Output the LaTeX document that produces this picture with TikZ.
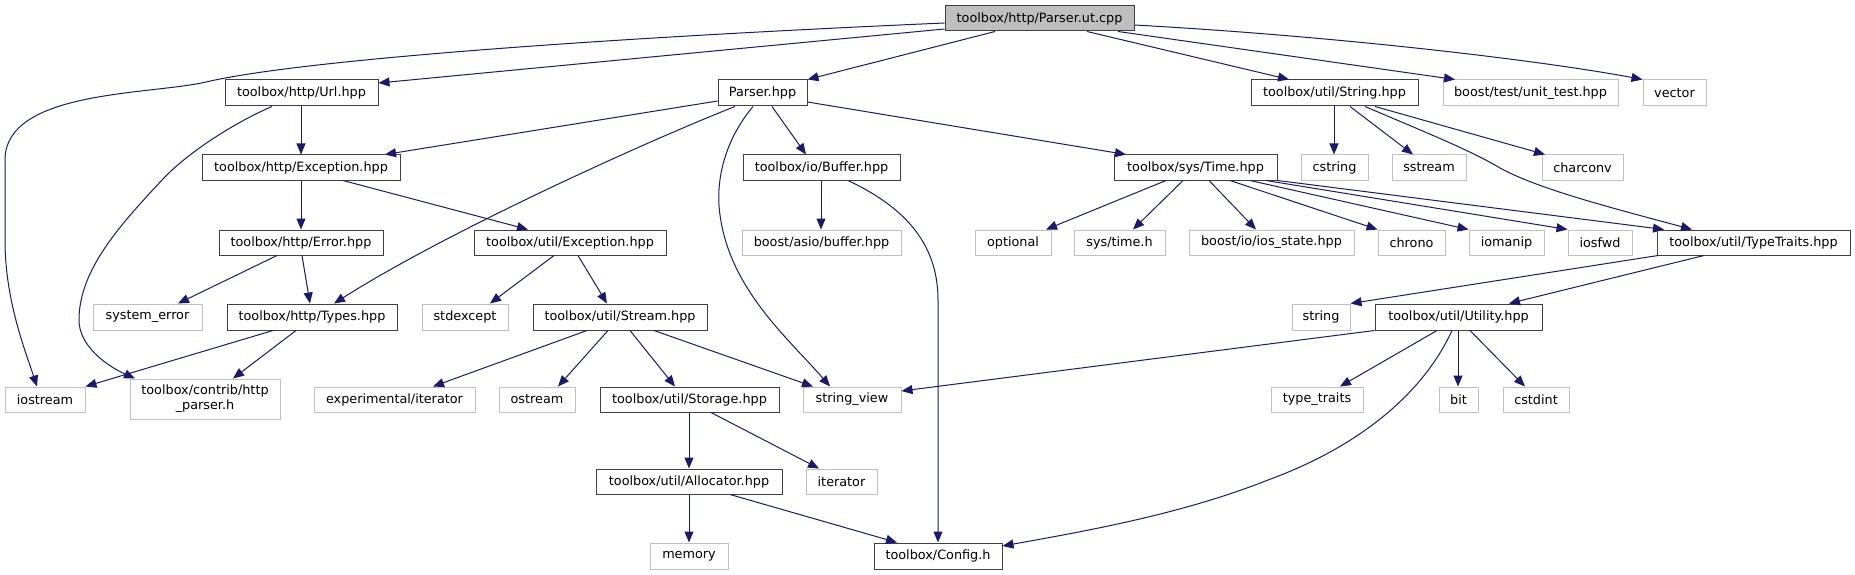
\documentclass[tikz,border=0pt]{standalone}
\usepackage{fontspec}
\setmainfont{DejaVu Sans}
\usetikzlibrary{arrows.meta}
\definecolor{edgeblue}{HTML}{191970}
\definecolor{greyfill}{HTML}{BFBFBF}
\definecolor{greyline}{HTML}{BFBFBF}
\definecolor{boxline}{HTML}{404040}
\newcommand\mkbox[7]{%
  \node[#1, minimum width={(#4-#3)*1pt}, minimum height={(#6-#5)*1pt}] (#2) at ({(#3+#4)/2},{(#5+#6)/2}) {#7};}
\tikzset{
  base/.style={rectangle, inner sep=0pt, font=\fontsize{12.8}{15}\selectfont, line width=1pt, align=center},
  filebox/.style={base, draw=boxline, fill=white},
  rootbox/.style={base, draw=boxline, fill=greyfill},
  extbox/.style={base, draw=greyline, fill=white},
  edge/.style={draw=edgeblue, line width=1pt, -{Triangle[length=11pt,width=9pt]}, fill=none},
}
\begin{document}
\begin{tikzpicture}[x=1pt,y=-1pt]
\useasboundingbox (0,0) rectangle (1855,575);
% row 1
\mkbox{rootbox}{root}{945}{1134}{6}{31}{toolbox/http/Parser.ut.cpp}
% row 2
\mkbox{filebox}{url}{225}{378}{80}{106}{toolbox/http/Url.hpp}
\mkbox{filebox}{parser}{718}{807}{80}{106}{Parser.hpp}
\mkbox{filebox}{string}{1251}{1418}{80}{106}{toolbox/util/String.hpp}
\mkbox{extbox}{unittest}{1443}{1618}{80}{106}{boost/test/unit\_test.hpp}
\mkbox{extbox}{vector}{1643}{1706}{80}{106}{vector}
% row 3
\mkbox{filebox}{httpexc}{202}{400}{155}{180}{toolbox/http/Exception.hpp}
\mkbox{filebox}{buffer}{743}{900}{155}{180}{toolbox/io/Buffer.hpp}
\mkbox{filebox}{time}{1114}{1277}{155}{180}{toolbox/sys/Time.hpp}
\mkbox{extbox}{cstring}{1301}{1368}{155}{180}{cstring}
\mkbox{extbox}{sstream}{1392}{1466}{155}{180}{sstream}
\mkbox{extbox}{charconv}{1542}{1623}{155}{180}{charconv}
% row 4
\mkbox{filebox}{error}{219}{383}{230}{255}{toolbox/http/Error.hpp}
\mkbox{filebox}{utilexc}{474}{666}{230}{255}{toolbox/util/Exception.hpp}
\mkbox{extbox}{asiobuf}{742}{901}{230}{255}{boost/asio/buffer.hpp}
\mkbox{extbox}{optional}{975}{1051}{230}{255}{optional}
\mkbox{extbox}{systime}{1074}{1165}{230}{255}{sys/time.h}
\mkbox{extbox}{iosstate}{1189}{1354}{230}{255}{boost/io/ios\_state.hpp}
\mkbox{extbox}{chrono}{1378}{1445}{230}{255}{chrono}
\mkbox{extbox}{iomanip}{1469}{1544}{230}{255}{iomanip}
\mkbox{extbox}{iosfwd}{1568}{1632}{230}{255}{iosfwd}
\mkbox{filebox}{typetraits}{1657}{1850}{230}{255}{toolbox/util/TypeTraits.hpp}
% row 5
\mkbox{extbox}{syserr}{93}{202}{304}{330}{system\_error}
\mkbox{filebox}{types}{227}{397}{304}{330}{toolbox/http/Types.hpp}
\mkbox{extbox}{stdexcept}{422}{508}{304}{330}{stdexcept}
\mkbox{filebox}{stream}{533}{707}{304}{330}{toolbox/util/Stream.hpp}
\mkbox{extbox}{strng}{1292}{1350}{304}{330}{string}
\mkbox{filebox}{utility}{1375}{1542}{304}{330}{toolbox/util/Utility.hpp}
% row 6
\mkbox{extbox}{iostream}{5}{85}{387}{412}{iostream}
\mkbox{extbox}{httpparser}{130}{280}{379}{419}{toolbox/contrib/http\\\_parser.h}
\mkbox{extbox}{expiter}{314}{475}{387}{412}{experimental/iterator}
\mkbox{extbox}{ostream}{499}{575}{387}{412}{ostream}
\mkbox{filebox}{storage}{600}{779}{387}{412}{toolbox/util/Storage.hpp}
\mkbox{extbox}{stringview}{803}{901}{387}{412}{string\_view}
\mkbox{extbox}{typetraitsstd}{1271}{1363}{387}{412}{type\_traits}
\mkbox{extbox}{bit}{1439}{1478}{387}{412}{bit}
\mkbox{extbox}{cstdint}{1503}{1569}{387}{412}{cstdint}
% row 7
\mkbox{filebox}{allocator}{596}{782}{469}{494}{toolbox/util/Allocator.hpp}
\mkbox{extbox}{iterator}{806}{877}{469}{494}{iterator}
% row 8
\mkbox{extbox}{memory}{650}{728}{543}{569}{memory}
\mkbox{filebox}{config}{874}{1002}{543}{569}{toolbox/Config.h}

% edges from root
\draw[edge] (root.west |- 0,23) .. controls (600,38) and (300,60) .. (206,82)
  .. controls (150,95) and (5,90) .. (5,160) -- (5,240)
  .. controls (5,300) and (25,350) .. (37,0 |- iostream.north);
\draw[edge] (root.west |- 0,29) -- (url.east |- 0,83);
\draw[edge] (995,0 |- root.south) -- (parser.north east);
\draw[edge] (1087,0 |- root.south) -- (1289,0 |- string.north);
\draw[edge] (1118,0 |- root.south) -- (1455,0 |- unittest.north);
\draw[edge] (root.east |- 0,25) .. controls (1350,37) and (1550,62) .. (vector.north west);
% url
\draw[edge] (301,0 |- url.south) -- (301,0 |- httpexc.north);
\draw[edge] (272,0 |- url.south) .. controls (240,120) and (190,150) .. (162,180)
  .. controls (120,225) and (79,270) .. (79,320)
  .. controls (79,345) and (105,365) .. (135,0 |- httpparser.north);
% parser
\draw[edge] (parser.west |- 0,101) -- (385,0 |- httpexc.north);
\draw[edge] (735,0 |- parser.south) .. controls (650,140) and (450,230) .. (334,0 |- types.north);
\draw[edge] (753,0 |- parser.south) .. controls (725,140) and (715,180) .. (720,215)
  .. controls (730,290) and (790,340) .. (830,0 |- stringview.north);
\draw[edge] (772,0 |- parser.south) -- (806,0 |- buffer.north);
\draw[edge] (parser.east |- 0,102) -- (1126,0 |- time.north);
% http exception
\draw[edge] (301,0 |- httpexc.south) -- (301,0 |- error.north);
\draw[edge] (343,0 |- httpexc.south) -- (528,0 |- utilexc.north);
% error
\draw[edge] (277,0 |- error.south) -- (178,0 |- syserr.north);
\draw[edge] (302,0 |- error.south) -- (310,0 |- types.north);
% util exception
\draw[edge] (554,0 |- utilexc.south) -- (490,0 |- stdexcept.north);
\draw[edge] (578,0 |- utilexc.south) -- (607,0 |- stream.north);
% buffer
\draw[edge] (821,0 |- buffer.south) -- (821,0 |- asiobuf.north);
\draw[edge] (848,0 |- buffer.south) .. controls (900,205) and (938,240) .. (938,300) -- (938,0 |- config.north);
% types
\draw[edge] (273,0 |- types.south) -- (iostream.north east);
\draw[edge] (296,0 |- types.south) -- (233,0 |- httpparser.north);
% stream
\draw[edge] (587,0 |- stream.south) -- (433,0 |- expiter.north);
\draw[edge] (608,0 |- stream.south) -- (558,0 |- ostream.north);
\draw[edge] (630,0 |- stream.south) -- (675,0 |- storage.north);
\draw[edge] (654,0 |- stream.south) -- (813,0 |- stringview.north);
% storage
\draw[edge] (689,0 |- storage.south) -- (689,0 |- allocator.north);
\draw[edge] (711,0 |- storage.south) -- (819,0 |- iterator.north);
% allocator
\draw[edge] (689,0 |- allocator.south) -- (689,0 |- memory.north);
\draw[edge] (730,0 |- allocator.south) -- (897,0 |- config.north);
% time
\draw[edge] (1166,0 |- time.south) -- (1046,0 |- optional.north);
\draw[edge] (1183,0 |- time.south) -- (1133,0 |- systime.north);
\draw[edge] (1209,0 |- time.south) -- (1256,0 |- iosstate.north);
\draw[edge] (1230,0 |- time.south) -- (chrono.north west);
\draw[edge] (1250,0 |- time.south) -- (iomanip.north west);
\draw[edge] (1266,0 |- time.south) -- (iosfwd.north west);
\draw[edge] (time.south east) -- (1664,0 |- typetraits.north);
% string
\draw[edge] (1334,0 |- string.south) -- (1334,0 |- cstring.north);
\draw[edge] (1350,0 |- string.south) -- (1413,0 |- sstream.north);
\draw[edge] (1375,0 |- string.south) -- (1545,0 |- charconv.north);
\draw[edge] (1365,0 |- string.south) .. controls (1420,130) and (1470,150) .. (1500,168)
  .. controls (1540,190) and (1620,210) .. (1692,0 |- typetraits.north);
% typetraits
\draw[edge] (1658,0 |- typetraits.south) -- (strng.north east);
\draw[edge] (1704,0 |- typetraits.south) -- (1509,0 |- utility.north);
% utility
\draw[edge] (utility.south west) -- (stringview.east |- 0,391);
\draw[edge] (1437,0 |- utility.south) -- (1340,0 |- typetraitsstd.north);
\draw[edge] (1458,0 |- utility.south) -- (1458,0 |- bit.north);
\draw[edge] (1470,0 |- utility.south) -- (1525,0 |- cstdint.north);
\draw[edge] (1452,0 |- utility.south) .. controls (1420,400) and (1350,450) .. (1268,480)
  .. controls (1180,515) and (1080,532) .. (config.east |- 0,546);
\end{tikzpicture}
\end{document}
